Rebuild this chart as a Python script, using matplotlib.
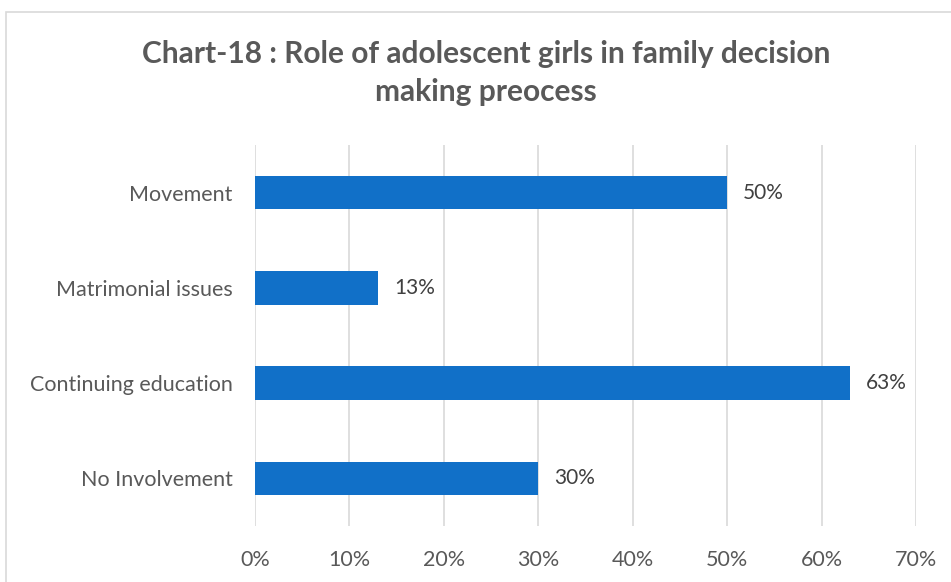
import matplotlib
matplotlib.use("Agg")
import matplotlib.pyplot as plt
from matplotlib.patches import Rectangle
from matplotlib.ticker import FuncFormatter

# Survey responses, listed bottom to top as they sit on the y axis
categories = ["No Involvement", "Continuing education", "Matrimonial issues", "Movement"]
shares = [30, 63, 13, 50]
x_ticks = [0, 10, 20, 30, 40, 50, 60, 70]

title = "Chart-18 : Role of adolescent girls in family decision\nmaking preocess"

bar_color = "#1170C8"
text_color = "#595959"
grid_color = "#D9D9D9"

plt.rcParams["font.family"] = ["Lato", "DejaVu Sans"]

fig = plt.figure(figsize=(9.51, 5.82), dpi=100)
# light frame around the chart
fig.patches.append(Rectangle((6 / 951, -0.05), 1.2, (582 - 12) / 582 + 0.05,
                             transform=fig.transFigure, fill=False,
                             edgecolor="#D9D9D9", linewidth=1.2))

ax = fig.add_axes([255 / 951, (582 - 526) / 582, (916 - 255) / 951, (526 - 145) / 582])

ypos = range(len(categories))
ax.barh(ypos, shares, height=0.35, color=bar_color, zorder=3)
for y, v in zip(ypos, shares):
    ax.text(v + 1.7, y, f"{v}%", va="center", ha="left", fontsize=15, color="#404040")

ax.set_xlim(0, 70)
ax.set_ylim(-0.5, len(categories) - 0.5)
ax.set_xticks(x_ticks)
ax.xaxis.set_major_formatter(FuncFormatter(lambda v, p: f"{v:.0f}%"))
ax.set_yticks(list(ypos))
ax.set_yticklabels(categories)
ax.tick_params(axis="both", length=0, labelsize=15.5, colors=text_color)
ax.tick_params(axis="x", pad=17)
ax.tick_params(axis="y", pad=16)
ax.grid(axis="x", color=grid_color, linewidth=1.2, zorder=0)
for s in ax.spines.values():
    s.set_visible(False)

fig.text(486 / 951, 1 - 73 / 582, title, ha="center", va="center",
         fontsize=21.5, fontweight="bold", color=text_color, linespacing=1.45)

fig.savefig("out.png", dpi=100)
